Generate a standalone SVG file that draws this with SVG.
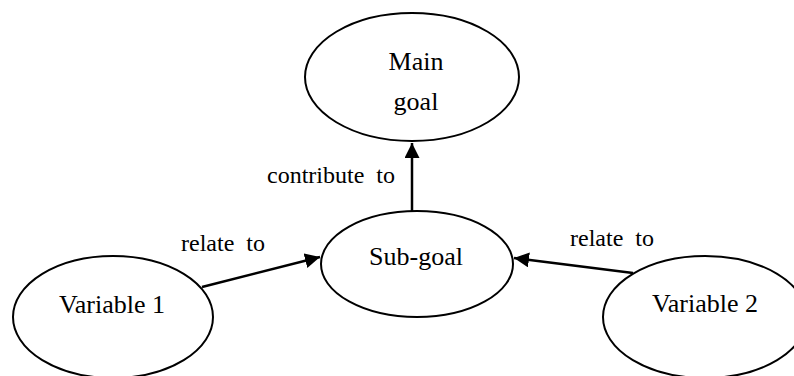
<svg xmlns="http://www.w3.org/2000/svg" width="794" height="376" viewBox="0 0 794 376">
  <style>
    .node ellipse { fill: #ffffff; stroke: #000000; stroke-width: 2; }
    .node text { font-family: "Liberation Serif", "Times New Roman", serif; font-size: 26px; fill: #000000; text-anchor: middle; }
    .edge line { stroke: #000000; stroke-width: 2.5; }
    .label { font-family: "Liberation Serif", "Times New Roman", serif; font-size: 24px; fill: #000000; white-space: pre; }
  </style>
  <defs>
    <marker id="arrow" viewBox="0 0 10 10" refX="10" refY="5" markerWidth="6" markerHeight="6" markerUnits="strokeWidth" orient="auto">
      <path d="M0,0 L10,5 L0,10 Z" fill="#000000"/>
    </marker>
  </defs>
  <rect width="794" height="376" fill="#ffffff"/>

  <g id="main-goal" class="node">
    <ellipse cx="412" cy="77" rx="107" ry="64"/>
    <text x="416" y="70">Main</text>
    <text x="416" y="110">goal</text>
  </g>

  <g id="sub-goal" class="node">
    <ellipse cx="417" cy="264" rx="96" ry="53"/>
    <text x="416" y="265">Sub-goal</text>
  </g>

  <g id="variable-1" class="node">
    <ellipse cx="113" cy="317" rx="100" ry="61"/>
    <text x="112" y="313">Variable 1</text>
  </g>

  <g id="variable-2" class="node">
    <ellipse cx="705" cy="317" rx="102" ry="61"/>
    <text x="705" y="312">Variable 2</text>
  </g>

  <g id="connectors" class="edge">
    <line x1="412" y1="211" x2="412" y2="143" marker-end="url(#arrow)"/>
    <line x1="202" y1="287" x2="320" y2="257" marker-end="url(#arrow)"/>
    <line x1="633" y1="273" x2="514" y2="258" marker-end="url(#arrow)"/>
    <text class="label" x="395" y="183" text-anchor="end">contribute  to</text>
    <text class="label" x="181" y="251">relate  to</text>
    <text class="label" x="570" y="246">relate  to</text>
  </g>
</svg>
